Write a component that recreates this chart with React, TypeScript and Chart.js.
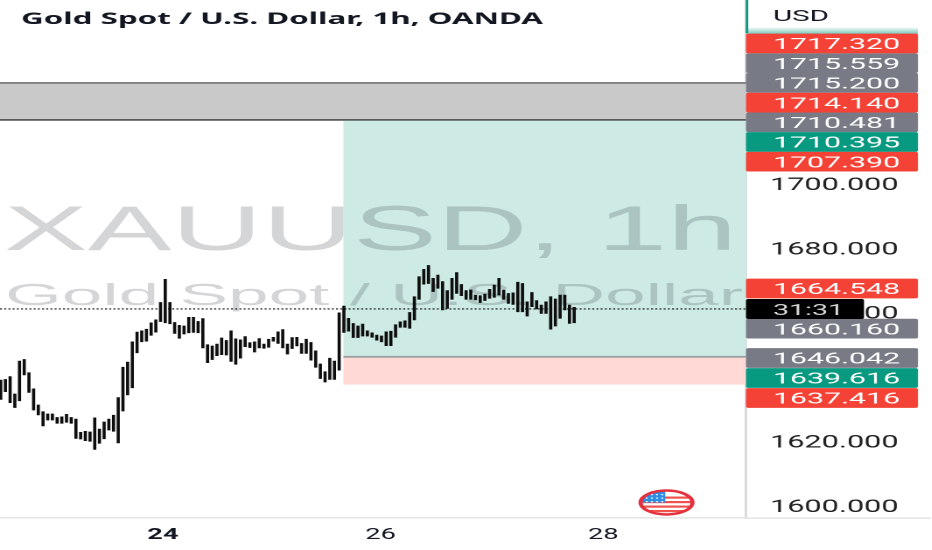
import { useEffect, useRef } from 'react';
import { Chart, registerables } from 'chart.js';

Chart.register(...registerables);

const highs = [
  1638.8, 1639.0, 1639.9, 1634.5, 1644.7, 1645.2, 1641.1, 1636.1, 1631.1, 1629.0,
  1628.3, 1628.3, 1627.2, 1627.4, 1628.2, 1627.2, 1626.7, 1622.6, 1622.9, 1622.7,
  1627.1, 1623.6, 1625.8, 1626.7, 1627.9, 1633.4, 1642.8, 1644.4, 1650.7, 1653.7,
  1654.1, 1654.6, 1656.6, 1657.5, 1662.9, 1670.1, 1662.9, 1656.7, 1655.8, 1655.6,
  1658.3, 1658.3, 1657.0, 1657.9, 1649.8, 1649.4, 1650.0, 1651.9, 1651.1, 1654.1,
  1651.6, 1651.3, 1652.3, 1650.4, 1650.7, 1651.7, 1650.0, 1651.5, 1652.1, 1653.8,
  1654.5, 1650.0, 1652.0, 1652.1,
  1650.2, 1651.5, 1650.5, 1647.9, 1643.8, 1641.4, 1645.6, 1644.7, 1659.7, 1661.8,
  1658.0, 1656.4, 1655.6, 1656.2, 1654.1, 1653.5, 1652.8, 1652.5, 1653.8, 1654.0,
  1656.0, 1656.9, 1657.2, 1659.8, 1664.7, 1670.9, 1673.2, 1674.4, 1670.4, 1671.4,
  1669.4, 1666.6, 1670.4, 1672.2, 1668.5, 1666.6, 1666.8, 1665.2, 1665.0, 1665.5,
  1667.0, 1668.3, 1670.4, 1666.8, 1665.7, 1665.9, 1669.2, 1668.8, 1663.1, 1666.0,
  1663.5, 1662.1, 1663.1, 1664.7, 1664.0, 1665.2, 1665.2, 1662.1, 1661.4,
];
const lows = [
  1632.8, 1635.2, 1631.8, 1630.3, 1632.4, 1640.4, 1635.0, 1629.5, 1628.0, 1624.6,
  1626.4, 1626.4, 1625.4, 1625.4, 1625.7, 1625.4, 1620.7, 1620.5, 1620.0, 1619.8,
  1617.3, 1619.2, 1620.6, 1623.3, 1622.9, 1619.3, 1629.2, 1634.2, 1636.4, 1647.3,
  1650.7, 1650.9, 1652.7, 1653.7, 1657.0, 1656.6, 1656.3, 1653.3, 1651.8, 1653.1,
  1653.5, 1653.6, 1653.5, 1648.8, 1644.2, 1645.2, 1646.4, 1646.7, 1646.6, 1644.6,
  1643.7, 1645.6, 1649.2, 1648.9, 1647.5, 1648.8, 1648.7, 1649.0, 1650.9, 1650.2,
  1648.8, 1646.9, 1648.6, 1649.4,
  1647.1, 1647.1, 1645.0, 1642.8, 1639.3, 1638.2, 1639.0, 1639.0, 1641.9, 1653.6,
  1654.0, 1652.0, 1652.0, 1652.5, 1652.5, 1652.1, 1651.2, 1650.7, 1649.5, 1649.5,
  1652.1, 1655.2, 1655.2, 1654.9, 1657.5, 1663.9, 1668.6, 1668.8, 1666.3, 1667.3,
  1660.6, 1661.1, 1663.9, 1665.7, 1665.0, 1663.9, 1663.9, 1663.7, 1662.9, 1663.5,
  1664.2, 1664.5, 1665.2, 1663.9, 1662.6, 1662.3, 1660.0, 1660.0, 1658.7, 1661.6,
  1660.9, 1659.5, 1659.5, 1654.6, 1655.6, 1658.0, 1660.6, 1656.4, 1656.6,
];

const priceTicks = [1600, 1620, 1640, 1660, 1680, 1700];
const dayTicks = [34.5, 80.8, 128.2];
const dayLabels = ['24', '26', '28'];

const lastPrice = 1660.9;
const bandTop = 1731.06;
const bandBottom = 1719.56;
const entryPrice = 1646.042;
const stopPrice = 1637.416;
const boxStart = 72.9;

const upperTags = [
  ['1717.320', '#f44336'],
  ['1715.559', '#787b86'],
  ['1715.200', '#787b86'],
  ['1714.140', '#f44336'],
  ['1710.481', '#787b86'],
  ['1710.395', '#089981'],
  ['1707.390', '#f44336'],
];
const lowerTags = [
  ['1660.160', '#787b86', 328.6],
  ['1646.042', '#787b86', 358],
  ['1639.616', '#089981', 378],
  ['1637.416', '#f44336', 398],
];

// the whole picture is wider than it is tall, so the canvas gets stretched by css
const K = 1.75;
const W = 932 / K;
const axisX = 747 / K;

function fitText(ctx: any, text: string, x: number, y: number, width: number, font: string, color: string) {
  ctx.save();
  ctx.font = font;
  ctx.fillStyle = color;
  ctx.textAlign = 'left';
  const sx = width / K / ctx.measureText(text).width;
  ctx.translate(x / K, y);
  ctx.scale(sx, 1);
  ctx.fillText(text, 0, 0);
  ctx.restore();
}

const zones = {
  id: 'zones',
  beforeDatasetsDraw(chart: any) {
    const { ctx, scales, chartArea } = chart;
    const yy = scales.y;
    const left = chartArea.left;
    const right = chartArea.right;
    const boxLeft = scales.x.getPixelForValue(boxStart);

    ctx.save();
    // resistance band
    const t = yy.getPixelForValue(bandTop);
    const b = yy.getPixelForValue(bandBottom);
    ctx.fillStyle = '#c9c9c9';
    ctx.fillRect(left, t, right - left, b - t);
    ctx.fillStyle = '#4a4a4a';
    ctx.fillRect(left, t - 0.6, right - left, 1.2);
    ctx.fillStyle = '#1c1c1c';
    ctx.fillRect(left, b - 0.6, right - left, 1.2);

    // long position box
    const e = yy.getPixelForValue(entryPrice);
    const s = yy.getPixelForValue(stopPrice);
    ctx.fillStyle = '#cdeae5';
    ctx.fillRect(boxLeft, b + 0.6, right - boxLeft, e - b);
    ctx.fillStyle = '#ffd9d6';
    ctx.fillRect(boxLeft, e, right - boxLeft, s - e);
    ctx.fillStyle = '#9a9f9f';
    ctx.fillRect(boxLeft, e - 0.9, right - boxLeft, 1.8);

    // watermark
    ctx.beginPath();
    ctx.rect(left, 0, right - left, chartArea.bottom);
    ctx.clip();
    fitText(ctx, 'XAUUSD, 1h', 4, 250, 733, '63px "Liberation Sans"', 'rgba(19,23,34,0.18)');
    fitText(ctx, 'Gold Spot / U.S. Dollar', 5, 305, 738, '31px "Liberation Sans"', 'rgba(19,23,34,0.18)');

    // last price line
    const p = yy.getPixelForValue(lastPrice);
    ctx.strokeStyle = '#111';
    ctx.lineWidth = 1.1;
    ctx.setLineDash([2 / K, 2.2 / K]);
    ctx.beginPath();
    ctx.moveTo(left, p);
    ctx.lineTo(right, p);
    ctx.stroke();
    ctx.restore();
  },
};

const overlay = {
  id: 'overlay',
  afterDraw(chart: any) {
    const { ctx, chartArea } = chart;
    const tagFont = '16px Roboto';
    const tagLeft = 746 / K;
    const tagW = 172 / K;

    const drawTag = (text: string, color: string, y: number) => {
      ctx.fillStyle = color;
      ctx.beginPath();
      ctx.roundRect(tagLeft, y - 9.85, tagW, 19.7, 1.5);
      ctx.fill();
      fitText(ctx, text, 773, y + 5.7, 127, tagFont, '#fff');
    };

    ctx.save();
    // pane border runs on past the price axis
    ctx.fillStyle = '#e6e6e6';
    ctx.fillRect(chartArea.right, chartArea.bottom - 0.6, W - chartArea.right, 1.6);

    // header of the price axis
    ctx.fillStyle = '#089981';
    ctx.fillRect(axisX - 0.7, 0, 1.4, 33);
    const grad = ctx.createLinearGradient(0, 27, 0, 34);
    grad.addColorStop(0, 'rgba(8,153,129,0)');
    grad.addColorStop(1, 'rgba(8,153,129,0.55)');
    ctx.fillStyle = grad;
    ctx.fillRect(tagLeft, 27, tagW, 7);
    fitText(ctx, 'USD', 773, 21, 56, tagFont, '#131722');

    upperTags.forEach(([text, color], i) => drawTag(text, color, 43.5 + i * 19.7));
    drawTag('1664.548', '#f44336', 288.5);
    lowerTags.forEach(([text, color, y]) => drawTag(text as string, color as string, y as number));

    // countdown
    ctx.fillStyle = '#000';
    ctx.beginPath();
    ctx.roundRect(tagLeft, 299, 118 / K, 20, 1.5);
    ctx.fill();
    fitText(ctx, '31:31', 773, 315, 71, tagFont, '#d8d8d8');

    // title
    fitText(ctx, 'Gold Spot / U.S. Dollar, 1h, OANDA', 21, 24, 522, 'bold 16px "Noto Sans"', '#131722');

    // flag icon
    const fx = 666.5 / K;
    const fy = 502.5;
    const rx = 26 / K;
    ctx.save();
    ctx.beginPath();
    ctx.ellipse(fx, fy, rx, 12, 0, 0, Math.PI * 2);
    ctx.fillStyle = '#fff';
    ctx.fill();
    ctx.clip();
    ctx.fillStyle = '#ef5350';
    [-6, -1.5, 3, 7.5].forEach((d) => ctx.fillRect(fx - rx, fy + d, rx * 2, 2.2));
    ctx.fillStyle = '#2e8de5';
    ctx.fillRect(fx - rx, fy - 12, rx * 0.95, 12);
    ctx.fillStyle = '#fff';
    [-8.5, -5, -1.5].forEach((dy) => {
      [0.2, 0.4, 0.6, 0.8].forEach((f) => ctx.fillRect(fx - rx + rx * f, fy + dy, 1.1, 1.2));
    });
    ctx.restore();
    ctx.strokeStyle = '#e5313d';
    ctx.lineWidth = 2.4;
    ctx.beginPath();
    ctx.ellipse(fx, fy, rx, 12, 0, 0, Math.PI * 2);
    ctx.stroke();
    ctx.restore();
  },
};

export default function App() {
  const canvasRef = useRef<HTMLCanvasElement>(null);

  useEffect(() => {
    if (!canvasRef.current) return;
    document.body.style.margin = '0';

    const chart = new Chart(canvasRef.current, {
      type: 'bar',
      data: {
        datasets: [{
          data: highs.map((h, i) => ({ x: i, y: [lows[i], h] })),
          backgroundColor: '#0d0d0d',
          barThickness: 2 / K,
        }],
      } as any,
      options: {
        animation: false,
        responsive: false,
        devicePixelRatio: 2,
        layout: { padding: 0 },
        plugins: { legend: { display: false }, tooltip: { enabled: false } },
        scales: {
          x: {
            type: 'linear',
            min: -0.15,
            max: 158.55,
            offset: false,
            afterFit: (s: any) => { s.height = 32; s.paddingLeft = 0; s.paddingRight = 0; },
            afterBuildTicks: (s: any) => { s.ticks = dayTicks.map((value) => ({ value })); },
            grid: { display: false, drawTicks: false },
            border: { color: '#e6e6e6', width: 1.6 },
            ticks: {
              autoSkip: false,
              maxRotation: 0,
              padding: 8,
              color: '#131722',
              font: (c: any) => ({
                family: 'Roboto',
                size: 15.5,
                weight: c.tick && c.tick.value === dayTicks[0] ? 'bold' : 'normal',
              }),
              callback: (v: any) => dayLabels[dayTicks.indexOf(v)],
            },
          },
          y: {
            position: 'right',
            min: 1596.0,
            max: 1756.8,
            afterFit: (s: any) => { s.width = 185 / K; s.paddingTop = 0; s.paddingBottom = 0; },
            afterBuildTicks: (s: any) => { s.ticks = priceTicks.map((value) => ({ value })); },
            grid: { display: false, drawTicks: false },
            border: { color: '#d9d9d9', width: 1.4 },
            ticks: {
              padding: 24 / K,
              labelOffset: 2.5,
              color: '#222',
              font: { family: 'Roboto', size: 17.5 },
              callback: (v: any) => Number(v).toFixed(3),
            },
          },
        },
      },
      plugins: [zones, overlay],
    } as any);

    return () => chart.destroy();
  }, []);

  return (
    <div style={{ width: 932, height: 550, overflow: 'hidden' }}>
      <canvas
        ref={canvasRef}
        width={W}
        height={550}
        style={{ display: 'block', transform: `scaleX(${K})`, transformOrigin: '0 0' }}
      />
    </div>
  );
}
